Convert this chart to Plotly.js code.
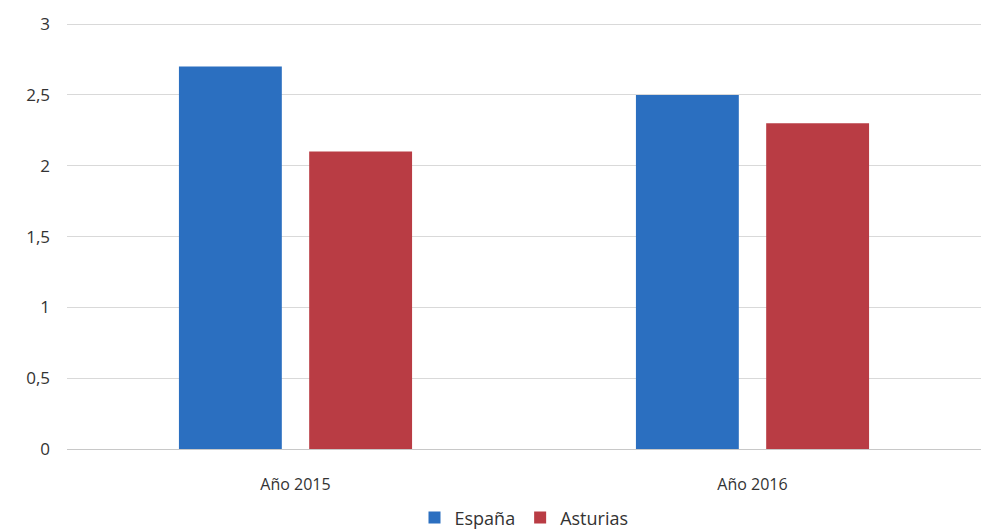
<!DOCTYPE html>
<html>
<head>
<meta charset="utf-8">
<script src="https://cdn.plot.ly/plotly-3.0.1.min.js"></script>
<style>html,body{margin:0;padding:0;background:#fff;}#chart{width:983px;height:531px;}</style>
</head>
<body>
<div id="chart"></div>
<script>
var categories = ["Año 2015", "Año 2016"];
var espana = [2.7, 2.5];
var asturias = [2.1, 2.3];
var yTickVals = [0, 0.5, 1, 1.5, 2, 2.5, 3];
var yTickText = ["0", "0,5", "1", "1,5", "2", "2,5", "3"];

var data = [
  {type: "bar", name: "España", x: categories, y: espana, marker: {color: "#2b6fc0"}},
  {type: "bar", name: "Asturias", x: categories, y: asturias, marker: {color: "#b93c44"}}
];
var layout = {
  width: 983, height: 531,
  margin: {l: 67, r: 2, t: 22, b: 82, autoexpand: false},
  paper_bgcolor: "#fff", plot_bgcolor: "#fff",
  barmode: "group", bargap: 0.43, bargroupgap: 0.21,
  font: {family: "Open Sans, Noto Sans, sans-serif", color: "#333333", size: 16},
  xaxis: {showgrid: false, zeroline: false, showline: false, ticks: "", tickfont: {size: 16},
          ticklabelstandoff: 24},
  yaxis: {range: [0, 3.015], tickvals: yTickVals, ticktext: yTickText, showgrid: true, gridcolor: "#d9d9d9",
          gridwidth: 1, zeroline: true, zerolinecolor: "#c8c8c8", zerolinewidth: 1, showline: false, ticks: "",
          ticklabelstandoff: 16, tickfont: {size: 17}},
  showlegend: true,
  legend: {orientation: "h", x: 0.5, xanchor: "center", y: -0.118, yanchor: "top", font: {size: 18}, itemwidth: 20, traceorder: "normal"}
};
Plotly.newPlot("chart", data, layout, {displayModeBar: false, staticPlot: true});
</script>
</body>
</html>
